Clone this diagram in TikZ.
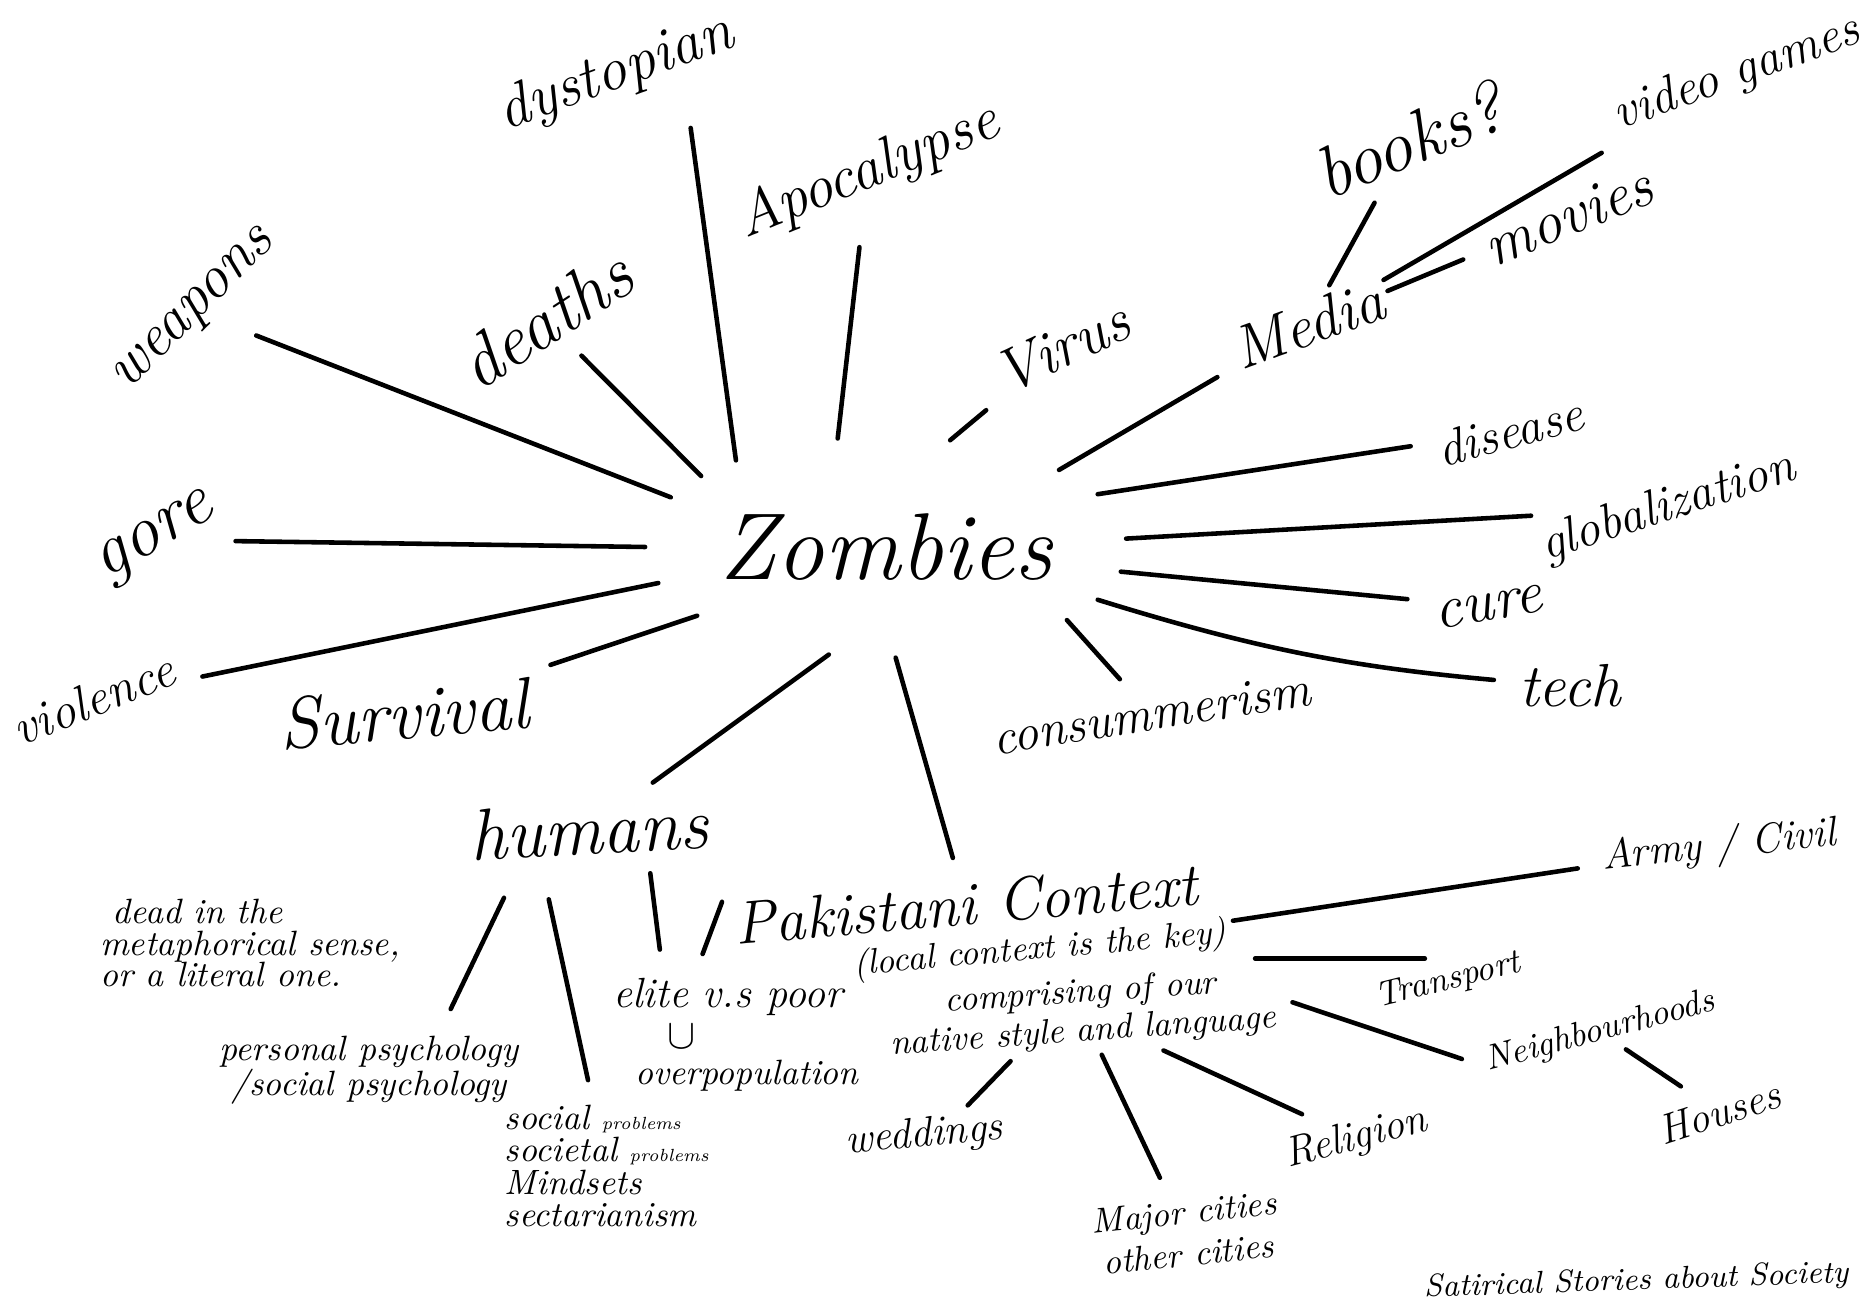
\documentclass[tikz,border=0pt]{standalone}
\usepackage{amsmath,amssymb}
\usepackage{tikz}
\usetikzlibrary{shapes.geometric}

\begin{document}
\begin{tikzpicture}[x=0.01cm, y=-0.01cm,
    word/.style={inner sep=2pt, font=\LARGE\itshape},
    midword/.style={inner sep=2pt, font=\Large\itshape},
    note/.style={inner sep=2pt, align=center, font=\normalsize\itshape},
    spoke/.style={line width=1.3pt, line cap=round, shorten >=5pt}
]
    \useasboundingbox[fill=white] (0,0) rectangle (1865,1307);

    % centre
    \node[ellipse, minimum width=4.8cm, minimum height=2.2cm, inner sep=0pt,
        font=\fontsize{27}{30}\selectfont\itshape] (zombies) at (886,547) {Zombies};

    % first ring
    \node[word, rotate=45] (weapons) at (196,312) {weapons};
    \node[word, font=\huge\itshape, rotate=33] (deaths) at (545,319) {deaths};
    \node[word, rotate=20] (dystopian) at (616,74) {dystopian};
    \node[word, rotate=22] (apocalypse) at (868,172) {Apocalypse};
    \node[word, rotate=25] (virus) at (1062,347) {Virus};
    \node[word, rotate=20] (media) at (1308,324) {Media};
    \node[midword, rotate=15] (disease) at (1510,431) {disease};
    \node[midword, rotate=18] (globalization) at (1668,508) {globalization};
    \node[word, rotate=10] (cure) at (1489,607) {cure};
    \node[word] (tech) at (1570,686) {tech};
    \node[midword, rotate=9] (consumerism) at (1151,714) {consummerism};
    \node[word, rotate=5] (pakistani) at (966,904) {Pakistani Context};
    \node[note, rotate=5] (localkey) at (1040,950) {(local context is the key)};
    \node[word, font=\huge\itshape, rotate=3] (humans) at (589,829) {humans};
    \node[word, font=\huge\itshape, rotate=5] (survival) at (404,714) {Survival};
    \node[midword, rotate=22] (violence) at (93,699) {violence};
    \node[word, font=\huge\itshape, rotate=30] (gore) at (157,540) {gore};

    \draw[spoke, shorten >=10pt] (zombies.167) -- (weapons);
    \draw[spoke] (zombies.159) -- (deaths);
    \draw[spoke, shorten >=12pt] (zombies.150) -- (dystopian.-30);
    \draw[spoke, shorten >=10pt] (zombies.114) -- (apocalypse);
    \draw[spoke] (zombies.59) -- (virus);
    \draw[spoke] (zombies.24) -- (media);
    \draw[spoke] (zombies.14) -- (disease);
    \draw[spoke] (zombies.2) -- (globalization);
    \draw[spoke] (zombies.-6) -- (cure);
    \draw[spoke] (zombies.-14) to[bend right=6] (tech);
    \draw[spoke] (zombies.-22) -- (consumerism);
    \draw[spoke] (zombies.-85) -- (pakistani);
    \draw[spoke] (zombies.-118) -- (humans);
    \draw[spoke] (zombies.-160) -- (survival);
    \draw[spoke] (zombies.-171) -- (violence);
    \draw[spoke] (zombies.180) -- (gore);

    % media
    \node[word, font=\huge\itshape, rotate=22] (books) at (1409,140) {books?};
    \node[midword, rotate=20] (games) at (1737,74) {video games};
    \node[word, rotate=22] (movies) at (1568,216) {movies};
    \draw[spoke] (media) -- (books);
    \draw[spoke] (media) -- (games);
    \draw[spoke] (media) -- (movies);

    % humans
    \node[note, align=left, font=\fontsize{10}{9}\selectfont\itshape] (deadsense) at (250,943)
        {\ dead in the\\metaphorical sense,\\or a literal one.};
    \node[note, font=\fontsize{10}{10}\selectfont\itshape] (psychology) at (369,1070)
        {personal psychology\\/social psychology};
    \node[note, anchor=west, align=left, font=\fontsize{10}{9.2}\selectfont\itshape] (socialprob) at (497,1166)
        {social {\tiny problems}\\societal {\tiny problems}\\Mindsets\\sectarianism};
    \node[note, font=\large\itshape] (elite) at (728,997) {elite v.s poor};
    \node[note, font=\large] (cupsym) at (682,1037) {$\cup$};
    \node[note] (overpop) at (747,1076) {overpopulation};
    \draw[spoke, shorten <=10pt, shorten >=6pt] (humans.-155) -- (psychology.30);
    \draw[spoke, shorten <=10pt] (humans.-146) -- (socialprob);
    \draw[spoke, shorten <=4pt, shorten >=6pt] (humans.-30) -- (elite.158);
    \draw[spoke, shorten <=2pt] (pakistani.north west) -- (elite.140);

    % pakistani context
    \node[note, font=\fontsize{10}{11}\selectfont\itshape, rotate=4] (comprising) at (1082,1013)
        {comprising of our\\native style and language};
    \node[note, font=\large\itshape, rotate=6] (army) at (1719,847) {Army / Civil};
    \node[note, rotate=14] (transport) at (1448,981) {Transport};
    \node[note, rotate=15] (neighbourhoods) at (1600,1032) {Neighbourhoods};
    \node[note, font=\large\itshape, rotate=18] (houses) at (1719,1112) {Houses};
    \node[note, font=\large\itshape, rotate=15] (religion) at (1356,1139) {Religion};
    \node[note, rotate=6] (cities) at (1186,1233) {Major cities\\other cities};
    \node[note, font=\large\itshape, rotate=5] (weddings) at (924,1136) {weddings};
    \draw[spoke] (localkey) -- (army);
    \draw[spoke, shorten <=6pt] (transport.north -| localkey.east) -- (transport.north);
    \draw[spoke, shorten <=3pt] (comprising.east) -- (neighbourhoods.west);
    \draw[spoke] (neighbourhoods) -- (houses);
    \draw[spoke] (comprising) -- (religion);
    \draw[spoke] (comprising) -- (cities);
    \draw[spoke, shorten >=0pt] (comprising.-150) -- (weddings.30);

    \node[note, font=\small\itshape, rotate=2, anchor=east] (satirical) at (1856,1274) {Satirical Stories about Society};
\end{tikzpicture}
\end{document}
